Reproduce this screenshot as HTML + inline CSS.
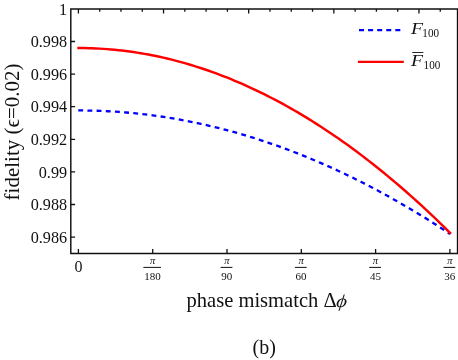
<!DOCTYPE html>
<html><head><meta charset="utf-8"><style>
html,body{margin:0;padding:0;background:#fff;}
svg{display:block;will-change:transform;font-family:"Liberation Serif",serif;}
text{fill:#111;}
</style></head><body>
<svg width="458" height="360" viewBox="0 0 458 360">
<rect width="458" height="360" fill="#fff"/>
<path d="M70.8,253.4 L70.8,8.9 L457.55,8.9 L457.55,253.4 Z" fill="none" stroke="#111" stroke-width="1.45" stroke-linejoin="miter"/>
<path d="M78.40,8.9 v4.5 M99.69,8.9 v2.8 M120.97,8.9 v2.8 M142.26,8.9 v2.8 M163.54,8.9 v4.5 M184.83,8.9 v2.8 M206.11,8.9 v2.8 M227.40,8.9 v2.8 M248.68,8.9 v4.5 M269.97,8.9 v2.8 M291.25,8.9 v2.8 M312.54,8.9 v2.8 M333.82,8.9 v4.5 M355.11,8.9 v2.8 M376.40,8.9 v2.8 M397.68,8.9 v2.8 M418.97,8.9 v4.5 M440.25,8.9 v2.8 M78.40,253.4 v-4.3 M152.70,253.4 v-4.3 M227.00,253.4 v-4.3 M301.30,253.4 v-4.3 M375.60,253.4 v-4.3 M449.90,253.4 v-4.3 M70.8,41.50 h4.3 M70.8,74.10 h4.3 M70.8,106.70 h4.3 M70.8,139.30 h4.3 M70.8,171.90 h4.3 M70.8,204.50 h4.3 M70.8,237.10 h4.3" fill="none" stroke="#111" stroke-width="1.3"/>
<path d="M78.25,110.45 L81.97,110.46 L85.69,110.50 L89.41,110.56 L93.12,110.64 L96.84,110.75 L100.56,110.89 L104.28,111.05 L108.00,111.23 L111.71,111.44 L115.43,111.68 L119.15,111.93 L122.87,112.22 L126.59,112.52 L130.30,112.86 L134.02,113.21 L137.74,113.60 L141.46,114.00 L145.17,114.44 L148.89,114.89 L152.61,115.37 L156.33,115.88 L160.05,116.41 L163.76,116.96 L167.48,117.54 L171.20,118.15 L174.92,118.78 L178.64,119.43 L182.35,120.11 L186.07,120.81 L189.79,121.54 L193.51,122.30 L197.23,123.07 L200.94,123.88 L204.66,124.70 L208.38,125.55 L212.10,126.43 L215.82,127.33 L219.53,128.26 L223.25,129.21 L226.97,130.18 L230.69,131.18 L234.41,132.21 L238.12,133.26 L241.84,134.33 L245.56,135.43 L249.28,136.55 L253.00,137.70 L256.71,138.88 L260.43,140.07 L264.15,141.30 L267.87,142.54 L271.59,143.82 L275.30,145.11 L279.02,146.43 L282.74,147.78 L286.46,149.15 L290.18,150.55 L293.89,151.97 L297.61,153.41 L301.33,154.88 L305.05,156.38 L308.77,157.90 L312.48,159.44 L316.20,161.01 L319.92,162.60 L323.64,164.22 L327.36,165.86 L331.07,167.53 L334.79,169.22 L338.51,170.94 L342.23,172.68 L345.95,174.45 L349.66,176.24 L353.38,178.05 L357.10,179.89 L360.82,181.76 L364.54,183.65 L368.25,185.56 L371.97,187.50 L375.69,189.47 L379.41,191.46 L383.13,193.47 L386.84,195.51 L390.56,197.57 L394.28,199.66 L398.00,201.77 L401.71,203.91 L405.43,206.07 L409.15,208.26 L412.87,210.47 L416.59,212.70 L420.30,214.96 L424.02,217.25 L427.74,219.56 L431.46,221.89 L435.18,224.25 L438.89,226.64 L442.61,229.05 L446.33,231.48 L450.05,233.94" fill="none" stroke="#0000ff" stroke-width="2.3" stroke-dasharray="4.88 4.303"/>
<path d="M77.30,48.02 L81.04,48.03 L84.77,48.07 L88.51,48.16 L92.25,48.28 L95.99,48.43 L99.72,48.63 L103.46,48.86 L107.20,49.13 L110.93,49.44 L114.67,49.78 L118.41,50.16 L122.14,50.58 L125.88,51.04 L129.62,51.53 L133.36,52.06 L137.09,52.63 L140.83,53.24 L144.57,53.88 L148.30,54.56 L152.04,55.28 L155.78,56.03 L159.51,56.82 L163.25,57.65 L166.99,58.52 L170.73,59.43 L174.46,60.37 L178.20,61.35 L181.94,62.36 L185.67,63.42 L189.41,64.51 L193.15,65.64 L196.88,66.81 L200.62,68.01 L204.36,69.25 L208.10,70.53 L211.83,71.84 L215.57,73.20 L219.31,74.59 L223.04,76.02 L226.78,77.48 L230.52,78.98 L234.25,80.52 L237.99,82.10 L241.73,83.72 L245.47,85.37 L249.20,87.06 L252.94,88.78 L256.68,90.55 L260.41,92.35 L264.15,94.19 L267.89,96.07 L271.62,97.98 L275.36,99.93 L279.10,101.92 L282.83,103.95 L286.57,106.01 L290.31,108.11 L294.05,110.25 L297.78,112.42 L301.52,114.64 L305.26,116.89 L308.99,119.17 L312.73,121.50 L316.47,123.86 L320.20,126.26 L323.94,128.70 L327.68,131.17 L331.42,133.68 L335.15,136.23 L338.89,138.82 L342.63,141.44 L346.36,144.10 L350.10,146.80 L353.84,149.54 L357.57,152.31 L361.31,155.12 L365.05,157.97 L368.79,160.86 L372.52,163.78 L376.26,166.74 L380.00,169.74 L383.73,172.77 L387.47,175.84 L391.21,178.95 L394.94,182.10 L398.68,185.29 L402.42,188.51 L406.16,191.77 L409.89,195.06 L413.63,198.40 L417.37,201.77 L421.10,205.18 L424.84,208.62 L428.58,212.11 L432.31,215.63 L436.05,219.19 L439.79,222.78 L443.53,226.42 L447.26,230.09 L451.00,233.79" fill="none" stroke="#ff0000" stroke-width="2.45"/>
<path d="M359.0,30.05 H400.4" fill="none" stroke="#0000ff" stroke-width="2.3" stroke-dasharray="5.0 4.08"/>
<path d="M357.9,61.95 H403.8" fill="none" stroke="#ff0000" stroke-width="2.2"/>
<text x="67.1" y="14.50" text-anchor="end" font-size="16.2">1</text>
<text x="67.1" y="47.10" text-anchor="end" font-size="16.2">0.998</text>
<text x="67.1" y="79.70" text-anchor="end" font-size="16.2">0.996</text>
<text x="67.1" y="112.30" text-anchor="end" font-size="16.2">0.994</text>
<text x="67.1" y="144.90" text-anchor="end" font-size="16.2">0.992</text>
<text x="67.1" y="177.50" text-anchor="end" font-size="16.2">0.99</text>
<text x="67.1" y="210.10" text-anchor="end" font-size="16.2">0.988</text>
<text x="67.1" y="242.70" text-anchor="end" font-size="16.2">0.986</text>
<text x="78.40" y="272" text-anchor="middle" font-size="16">0</text>
<text x="152.60" y="264.3" text-anchor="middle" font-size="10.5" font-style="italic">π</text>
<path d="M143.40,267.4 h17.6" stroke="#111" stroke-width="1"/>
<text x="152.50" y="280.4" text-anchor="middle" font-size="11">180</text>
<text x="226.90" y="264.3" text-anchor="middle" font-size="10.5" font-style="italic">π</text>
<path d="M220.60,267.4 h11.8" stroke="#111" stroke-width="1"/>
<text x="226.80" y="280.4" text-anchor="middle" font-size="11">90</text>
<text x="301.20" y="264.3" text-anchor="middle" font-size="10.5" font-style="italic">π</text>
<path d="M294.90,267.4 h11.8" stroke="#111" stroke-width="1"/>
<text x="301.10" y="280.4" text-anchor="middle" font-size="11">60</text>
<text x="375.50" y="264.3" text-anchor="middle" font-size="10.5" font-style="italic">π</text>
<path d="M369.20,267.4 h11.8" stroke="#111" stroke-width="1"/>
<text x="375.40" y="280.4" text-anchor="middle" font-size="11">45</text>
<text x="449.80" y="264.3" text-anchor="middle" font-size="10.5" font-style="italic">π</text>
<path d="M443.50,267.4 h11.8" stroke="#111" stroke-width="1"/>
<text x="449.70" y="280.4" text-anchor="middle" font-size="11">36</text>
<text x="186.5" y="306.6" font-size="20.55">phase mismatch Δ</text>
<text transform="translate(341.97,302.4) skewX(-7) scale(1,0.87) translate(-341.97,-302.4)" x="336.37" y="307.3" font-size="20.55" font-style="italic">ϕ</text>
<text x="252.6" y="354.4" font-size="20">(b)</text>
<text transform="translate(18.75,200.4) rotate(-90)" font-size="21">fidelity (ϵ=0.02)</text>
<text transform="translate(411.1,34.1) scale(1.2,1)" font-size="16.4" font-style="italic">F</text>
<text transform="translate(422.3,37.1) scale(0.93,1)" font-size="12">100</text>
<text transform="translate(411.0,65.9) scale(1.2,1)" font-size="16.4" font-style="italic">F</text>
<text transform="translate(423.6,68.9) scale(0.93,1)" font-size="12">100</text>
<path d="M412.2,52.50000000000001 h11.2" stroke="#111" stroke-width="0.9"/>
</svg>
</body></html>
